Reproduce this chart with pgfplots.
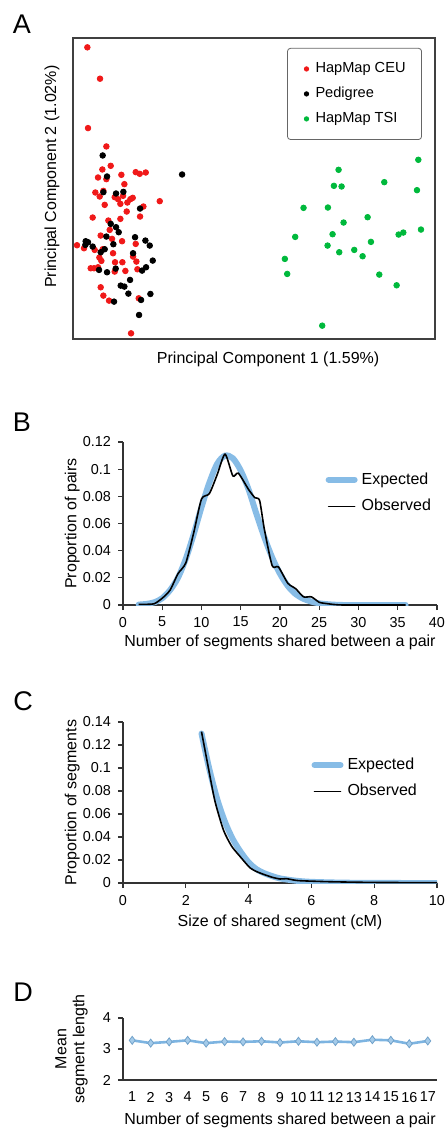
\documentclass[border=0pt]{standalone}
\usepackage{fontspec}
\setmainfont{Liberation Sans}
\usepackage{pgfplots}
\pgfplotsset{compat=1.18}

\definecolor{ceu}{RGB}{240,25,25}
\definecolor{tsi}{RGB}{0,185,60}
\definecolor{expblue}{RGB}{135,188,230}
\definecolor{dblue}{RGB}{125,180,225}

\pgfplotsset{
  panel/.style={
    scale only axis,
    axis lines*=left,
    tick align=outside,
    major tick length=2.5pt,
    axis line style={black!80, line width=0.6pt},
    tick style={black!80, line width=0.6pt},
    /pgf/number format/assume math mode=true,
    tick label style={font=\fontsize{7.2}{8}\selectfont},
    label style={font=\fontsize{8}{9}\selectfont},
    legend cell align=left,
    legend image code/.code={\draw[##1,line cap=round] (0pt,0pt) -- (13pt,0pt);},
    legend style={draw=none, fill=none, font=\fontsize{8}{9}\selectfont, row sep=2pt},
  },
}

\begin{document}
\begin{tikzpicture}
\useasboundingbox (0,0) rectangle (223.5pt,-564.5pt);

% ---- A: PCA
\begin{axis}[
  scale only axis,
  at={(36.5pt,-169.5pt)}, anchor=south west,
  width=181pt, height=150.5pt,
  xmin=220, xmax=1305, ymin=115, ymax=1017, y dir=reverse,
  xtick=\empty, ytick=\empty,
  axis line style={black!75, line width=0.75pt},
  label style={font=\fontsize{8}{9}\selectfont},
  xlabel={Principal Component 1 (1.59\%)},
  ylabel={Principal Component 2 (1.02\%)},
  xlabel style={at={(axis description cs:0.539,-0.066)}, anchor=center},
  ylabel style={at={(axis description cs:-0.058,0.539)}, anchor=center},
  legend style={at={(0.964,0.967)}, anchor=north east, draw=black!60,
    rounded corners=1.5pt, font=\fontsize{7.3}{8}\selectfont, row sep=1.8pt,
    inner xsep=6pt, inner ysep=5pt},
  legend image code/.code={\path[draw=none, fill=none] (-3.5pt,0pt) -- (2.5pt,0pt);
    \draw[#1, mark size=1.1pt] plot coordinates {(0pt,0pt)};},
  legend cell align=left,
]
\addplot[only marks, mark=*, mark size=1.4pt, mark options={draw=ceu, fill=ceu}] coordinates {
  (263,143) (301,237) (265,385) (320,440) (308,509) (333,498) (295,533) (320,538)
  (365,525) (408,517) (420,522) (438,518) (374,553) (287,578) (311,573) (300,590)
  (345,592) (370,588) (392,598) (399,594) (383,608) (480,604) (315,615) (362,612)
  (431,620) (381,635) (279,653) (362,657) (421,650) (326,662) (303,707) (337,717)
  (367,724) (408,732) (232,736) (253,745) (309,748) (299,773) (305,783) (346,787)
  (368,787) (410,785) (273,805) (283,805) (295,802) (345,815) (377,813) (413,808)
  (303,862) (311,887) (328,902) (417,895) (394,1000) (400,770) (340,760) (330,690)
  (285,750) (355,598)
};
\addlegendentry{HapMap CEU}
\addplot[only marks, mark=*, mark size=1.4pt, mark options={draw=black, fill=black}] coordinates {
  (309,467) (322,530) (547,524) (311,577) (349,581) (371,576) (421,626) (333,672)
  (349,682) (357,697) (320,710) (406,712) (437,722) (450,737) (258,724) (265,727)
  (257,735) (279,740) (315,748) (303,757) (341,733) (400,760) (459,782) (298,810)
  (322,817) (348,806) (439,802) (427,812) (363,857) (374,860) (391,840) (386,881)
  (343,905) (424,900) (452,882) (418,945)
};
\addlegendentry{Pedigree}
\addplot[only marks, mark=*, mark size=1.4pt, mark options={draw=tsi, fill=tsi}] coordinates {
  (1016,510) (1255,480) (1153,547) (1002,558) (1025,560) (1251,571) (911,624)
  (984,623) (1103,652) (1031,668) (1263,689) (1196,704) (1210,698) (886,711)
  (998,703) (1113,726) (983,737) (1063,750) (1018,757) (1088,769) (855,777)
  (862,822) (1138,824) (1190,856) (967,977)
};
\addlegendentry{HapMap TSI}
\end{axis}

% ---- B: number of shared segments
\begin{axis}[
  panel,
  at={(61.5pt,-302.5pt)}, anchor=south west,
  width=157pt, height=81.5pt,
  xmin=0, xmax=40, ymin=0, ymax=0.12,
  xtick={0,5,...,40},
  ytick={0,0.02,0.04,0.06,0.08,0.1,0.12},
  yticklabels={0,0.02,0.04,0.06,0.08,0.1,0.12},
  xlabel={Number of segments shared between a pair},
  ylabel={Proportion of pairs},
  xlabel style={at={(axis description cs:0.5,-0.227)}, anchor=center},
  ylabel style={at={(axis description cs:-0.162,0.5)}, anchor=center},
  legend style={at={(0.625,0.865)}, anchor=north west},
]
\addplot[expblue, line width=3pt, line cap=round, smooth] coordinates {
  (2,0.0003) (3,0.0008) (4,0.002) (5,0.005) (6,0.011) (7,0.020) (8,0.034)
  (9,0.052) (10,0.072) (11,0.090) (12,0.104) (13,0.110) (14,0.108) (15,0.099)
  (16,0.085) (17,0.067) (18,0.050) (19,0.035) (20,0.023) (21,0.014) (22,0.008)
  (23,0.0045) (24,0.0025) (25,0.0012) (26,0.0006) (27,0.0002) (28,0) (30,0)
  (32,0) (34,0) (36,0)
};
\addlegendentry{Expected}
\addplot[black, line width=0.8pt, smooth, tension=0.4] coordinates {
  (2,0.0005) (3,0.0005) (4,0.001) (5,0.005) (6,0.011) (7,0.023) (8,0.031)
  (9,0.053) (10,0.078) (11,0.082) (12,0.096) (13,0.111) (14,0.095) (14.7,0.097)
  (16,0.085) (16.8,0.079) (17.4,0.077) (18,0.056) (19,0.029) (19.8,0.028)
  (21,0.016) (22,0.012) (23,0.006) (24,0.006) (25,0.002) (26,0.001) (27,0.0003)
  (28,0) (30,0) (32,0) (34,0) (36,0)
};
\addlegendentry{Observed}
\end{axis}

% ---- C: size of shared segment
\begin{axis}[
  panel,
  at={(61.5pt,-441.5pt)}, anchor=south west,
  width=157pt, height=80.5pt,
  xmin=0, xmax=10, ymin=0, ymax=0.14,
  xtick={0,2,...,10},
  ytick={0,0.02,0.04,0.06,0.08,0.1,0.12,0.14},
  yticklabels={0,0.02,0.04,0.06,0.08,0.1,0.12,0.14},
  xlabel={Size of shared segment (cM)},
  ylabel={Proportion of segments},
  xlabel style={at={(axis description cs:0.5,-0.242)}, anchor=center},
  ylabel style={at={(axis description cs:-0.162,0.5)}, anchor=center},
  legend style={at={(0.58,0.83)}, anchor=north west},
]
\addplot[expblue, line width=3pt, line cap=round, smooth] coordinates {
  (2.5,0.130) (2.75,0.099) (3,0.073) (3.25,0.053) (3.5,0.038) (3.75,0.027)
  (4,0.018) (4.25,0.012) (4.5,0.0085) (4.75,0.006) (5,0.004) (5.5,0.002)
  (6,0.001) (7,0.0003) (8,0.0001) (9,0) (10,0)
};
\addlegendentry{Expected}
\addplot[black, line width=0.8pt, smooth, tension=0.4] coordinates {
  (2.5,0.1316) (2.72,0.100) (2.93,0.071) (3.2,0.046) (3.46,0.032) (3.73,0.023)
  (4.04,0.0133) (4.25,0.010) (4.47,0.0076) (4.75,0.005) (5,0.0035) (5.2,0.0038)
  (5.4,0.0028) (5.64,0.002) (6.6,0.0011) (8,0.0005) (10,0.0003)
};
\addlegendentry{Observed}
\end{axis}

% ---- D: mean segment length
\begin{axis}[
  panel,
  at={(61.5pt,-540pt)}, anchor=south west,
  width=157pt, height=31pt,
  xmin=0.5, xmax=17.5, ymin=2, ymax=4,
  xtick={1,...,17}, xtick style={draw=none},
  minor xtick={1.5,2.5,...,17.5},
  minor tick length=2.5pt,
  ytick={2,3,4},
  xlabel={Number of segments shared between a pair},
  ylabel={Mean\\segment length},
  ylabel style={align=center, at={(axis description cs:-0.164,0.5)}, anchor=center},
  xlabel style={at={(axis description cs:0.5,-0.645)}, anchor=center},
]
\addplot[dblue, line width=1.3pt, mark=diamond*, mark size=2pt,
  mark options={fill=dblue!70, draw=dblue!90!black, line width=0.4pt}] coordinates {
  (1,3.28) (2,3.19) (3,3.23) (4,3.28) (5,3.19) (6,3.24) (7,3.23) (8,3.25)
  (9,3.21) (10,3.25) (11,3.22) (12,3.24) (13,3.22) (14,3.30) (15,3.28)
  (16,3.17) (17,3.26)
};
\end{axis}

\node[font=\fontsize{13.5}{14}\selectfont] at (11pt,-12pt) {A};
\node[font=\fontsize{13.5}{14}\selectfont] at (11pt,-211pt) {B};
\node[font=\fontsize{13.5}{14}\selectfont] at (11.5pt,-350.5pt) {C};
\node[font=\fontsize{13.5}{14}\selectfont] at (11.5pt,-496pt) {D};
\end{tikzpicture}
\end{document}
